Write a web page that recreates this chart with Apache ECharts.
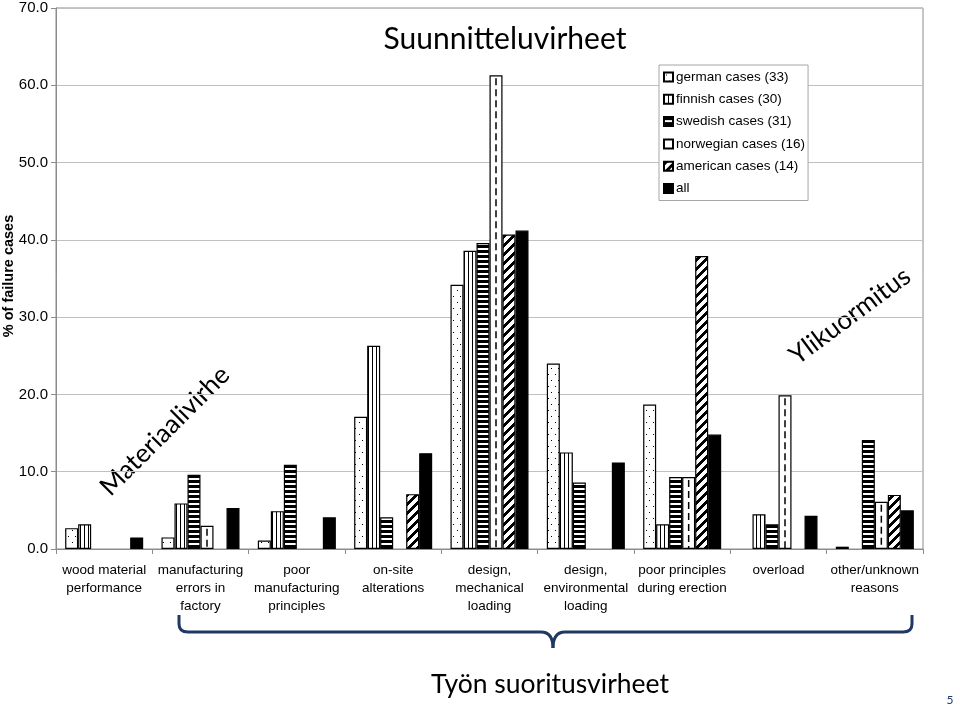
<!DOCTYPE html>
<html><head><meta charset="utf-8">
<script src="https://cdn.jsdelivr.net/npm/echarts@6/dist/echarts.min.js"></script>
<style>html,body{margin:0;padding:0;background:#fff}#c{width:960px;height:707px}</style>
</head><body><div id="c"></div><script>
const categories = ['wood material\nperformance', 'manufacturing\nerrors in\nfactory', 'poor\nmanufacturing\nprinciples', 'on-site\nalterations', 'design,\nmechanical\nloading', 'design,\nenvironmental\nloading', 'poor principles\nduring erection', 'overload', 'other/unknown\nreasons'];
const seriesNames = ['german cases (33)', 'finnish cases (30)', 'swedish cases (31)', 'norwegian cases (16)', 'american cases (14)', 'all'];
const german    = [2.7, 1.5, 1.1, 17.1, 34.2, 24.0, 18.7, 0, 0.3];
const finnish   = [3.2, 5.9, 4.9, 26.3, 38.6, 12.5, 3.2, 4.5, 0];
const swedish   = [0, 9.6, 10.9, 4.1, 39.6, 8.6, 9.3, 3.2, 14.1];
const norwegian = [0, 3.0, 0, 0, 61.3, 0, 9.3, 19.9, 6.1];
const american  = [0, 0, 0, 7.1, 40.7, 0, 37.9, 0, 7.0];
const all       = [1.5, 5.3, 4.1, 12.4, 41.2, 11.2, 14.8, 4.3, 5.0];
const yTicks = [0, 10, 20, 30, 40, 50, 60, 70];
const yTitle = '% of failure cases';

function mk(w, h, draw) {
  const c = document.createElement('canvas'); c.width = w; c.height = h;
  const x = c.getContext('2d'); x.fillStyle = '#fff'; x.fillRect(0, 0, w, h); draw(x, w, h); return c;
}
const patDots = mk(7, 12, (x) => { x.fillStyle = '#000'; x.fillRect(2, 2, 1, 1); x.fillRect(5, 8, 1, 1); });
const patVert = mk(4, 4, (x) => { x.fillStyle = '#000'; x.fillRect(0, 0, 1, 4); });
const patHoriz = mk(4, 5, (x) => { x.fillStyle = '#000'; x.fillRect(0, 0, 4, 3); });
const patDiag = mk(9, 9, (x, w, h) => {
  const id = x.getImageData(0, 0, w, h);
  for (let yy = 0; yy < h; yy++) for (let xx = 0; xx < w; xx++) {
    if (((xx + yy) % 9) < 4) { const k = (yy * w + xx) * 4; id.data[k] = id.data[k+1] = id.data[k+2] = 0; id.data[k+3] = 255; }
  }
  x.putImageData(id, 0, 0);
});
const fills = [
  { image: patDots, repeat: 'repeat' },
  { image: patVert, repeat: 'repeat' },
  { image: patHoriz, repeat: 'repeat' },
  '#ffffff',
  { image: patDiag, repeat: 'repeat' },
  '#000000'
];
const values = [german, finnish, swedish, norwegian, american, all];
const GAP = 0.19;
const FONT = '"Liberation Sans", Arial, sans-serif';
const TFONT = 'Lato, "Open Sans", sans-serif';

const barSeries = values.map((arr, i) => ({
  name: seriesNames[i], type: 'bar',
  data: arr.map(v => v === 0 ? null : v),
  barGap: '0%', barCategoryGap: (GAP * 100) + '%',
  itemStyle: { color: fills[i], borderColor: '#000', borderWidth: 1.2 },
  emphasis: { disabled: true }, z: 2
}));

const dashSeries = {
  type: 'custom', silent: true, z: 3,
  data: norwegian.map((v, i) => [i, v]),
  encode: { x: 0, y: 1 },
  renderItem: (params, api) => {
    const i = api.value(0), v = api.value(1);
    if (!v) return;
    const base = api.coord([i, 0]), top = api.coord([i, v]);
    const band = api.size([1, 0])[0];
    const bw = band * (1 - GAP) / 6;
    const x = base[0] + bw / 2;
    return { type: 'line', shape: { x1: x, y1: top[1] + 3, x2: x, y2: base[1] - 1 },
      style: { stroke: '#000', lineWidth: 1.5, lineDash: [7, 4] } };
  }
};

const braceStyle = { stroke: '#1f3864', lineWidth: 3, fill: null };
const chart = echarts.init(document.getElementById('c'));
chart.setOption({
  animation: false,
  backgroundColor: '#fff',
  grid: { left: 56, top: 8, right: 37, bottom: 158, show: true, borderColor: '#8c8c8c', borderWidth: 1, containLabel: false, outerBoundsMode: 'none' },
  legend: {
    orient: 'vertical', left: 659, top: 65, data: seriesNames,
    icon: 'rect', itemWidth: 9, itemHeight: 9, itemGap: 8.3,
    padding: [5, 3, 5, 4], borderColor: '#a6a6a6', borderWidth: 1, backgroundColor: '#fff',
    textStyle: { fontFamily: FONT, fontSize: 13.5, color: '#000', padding: [0, 0, 0, -2] },
    selectedMode: false
  },
  xAxis: {
    type: 'category', data: categories,
    axisLine: { lineStyle: { color: '#8c8c8c' } },
    axisTick: { show: true, length: 5, lineStyle: { color: '#8c8c8c' } },
    axisLabel: { interval: 0, fontFamily: FONT, fontSize: 13.5, color: '#000', lineHeight: 18.3, margin: 12 }
  },
  yAxis: {
    type: 'value', min: yTicks[0], max: yTicks[yTicks.length - 1], interval: 10,
    axisLine: { show: true, lineStyle: { color: '#8c8c8c' } },
    axisTick: { show: true, length: 5, lineStyle: { color: '#8c8c8c' } },
    axisLabel: { fontFamily: FONT, fontSize: 15, color: '#000', margin: 8, formatter: v => v.toFixed(1) },
    splitLine: { lineStyle: { color: '#c0c0c0' } }
  },
  series: barSeries.concat([dashSeries]),
  graphic: [
    { type: 'text', x: 9, y: 276, rotation: Math.PI / 2, style: { text: yTitle, font: 'bold 14.5px ' + FONT, fill: '#000', align: 'center', verticalAlign: 'middle' } },
    { type: 'text', x: 505, y: 39, style: { text: 'Suunnitteluvirheet', font: '30px ' + TFONT, fill: '#000', align: 'center', verticalAlign: 'middle' } },
    { type: 'text', x: 165, y: 431, rotation: Math.PI / 4, style: { text: 'Materiaalivirhe', font: '26px ' + TFONT, fill: '#000', align: 'center', verticalAlign: 'middle' } },
    { type: 'text', x: 850, y: 316, rotation: 0.64, style: { text: 'Ylikuormitus', font: '26px ' + TFONT, fill: '#000', align: 'center', verticalAlign: 'middle' } },
    { type: 'polyline', shape: { points: [[179, 615], [179, 624]] }, style: braceStyle },
    { type: 'bezierCurve', shape: { x1: 179, y1: 624, cpx1: 179, cpy1: 632, x2: 188, y2: 632 }, style: braceStyle },
    { type: 'polyline', shape: { points: [[188, 632], [541, 632]] }, style: braceStyle },
    { type: 'bezierCurve', shape: { x1: 541, y1: 632, cpx1: 553, cpy1: 632, x2: 553, y2: 648 }, style: braceStyle },
    { type: 'bezierCurve', shape: { x1: 553, y1: 648, cpx1: 553, cpy1: 632, x2: 565, y2: 632 }, style: braceStyle },
    { type: 'polyline', shape: { points: [[565, 632], [903, 632]] }, style: braceStyle },
    { type: 'bezierCurve', shape: { x1: 903, y1: 632, cpx1: 912, cpy1: 632, x2: 912, y2: 624 }, style: braceStyle },
    { type: 'polyline', shape: { points: [[912, 624], [912, 615]] }, style: braceStyle },
    { type: 'text', x: 550, y: 684, style: { text: 'Työn suoritusvirheet', font: '26.5px ' + TFONT, fill: '#000', align: 'center', verticalAlign: 'middle' } },
    { type: 'text', x: 950, y: 700, style: { text: '5', font: '12px ' + TFONT, fill: '#1f3b70', align: 'center', verticalAlign: 'middle' } }
  ]
});
</script></body></html>
